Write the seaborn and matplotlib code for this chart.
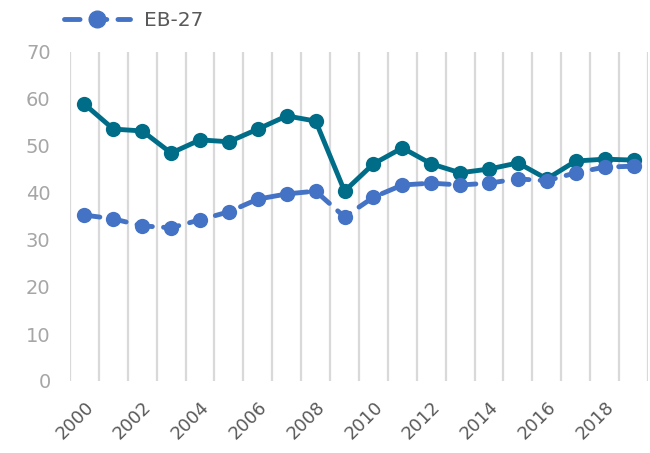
import numpy as np
import pandas as pd
import matplotlib
matplotlib.use("Agg")
import matplotlib.pyplot as plt
import seaborn as sns
from matplotlib.lines import Line2D

# Дані
years = list(range(2000, 2020))
country = [58.9, 53.6, 53.2, 48.5, 51.3, 50.9, 53.6, 56.4, 55.3, 40.4,
           46.2, 49.6, 46.2, 44.3, 45.1, 46.4, 43.0, 46.8, 47.2, 47.0]
eb27 = [35.3, 34.5, 33.0, 32.6, 34.3, 36.0, 38.7, 39.8, 40.4, 34.9,
        39.1, 41.7, 42.1, 41.7, 42.1, 43.0, 42.6, 44.3, 45.5, 45.7]
y_ticks = [0, 10, 20, 30, 40, 50, 60, 70]
x_labels = [str(y) for y in range(2000, 2020, 2)]

TEAL = "#006D88"
BLUE = "#4472C4"
DASH_STYLE = (0, (3.2, 2.3))

sns.set_style("white")
plt.rcParams['font.family'] = ['DejaVu Sans']

df = pd.DataFrame({"year": years, "country": country, "eb27": eb27})

fig = plt.figure(figsize=(6.5, 4.53), dpi=100)
ax = fig.add_axes([70 / 650, 72 / 453, 578 / 650, 329 / 453])

sns.lineplot(data=df, x="year", y="country", ax=ax, color=TEAL, linewidth=3.5,
             marker="o", markersize=11, markeredgewidth=0, zorder=3)
sns.lineplot(data=df, x="year", y="eb27", ax=ax, color=BLUE, linewidth=3.5,
             marker="o", markersize=11, markeredgewidth=0, zorder=4,
             dashes=False)
eb_line = [l for l in ax.lines if l.get_color() == BLUE][0]
eb_line.set_linestyle(DASH_STYLE)
eb_line.set_dash_capstyle("round")

ax.set_xlim(1999.5, 2019.5)
ax.set_ylim(0, 70)
ax.set_yticks(y_ticks)
ax.set_xticks(range(2000, 2020, 2))
ax.set_xticklabels(x_labels, rotation=45, ha="right", rotation_mode="anchor")
ax.set_xticks(np.arange(1999.5, 2020, 1), minor=True)
ax.grid(False)
ax.grid(True, which="minor", axis="x", color="#D9D9D9", linewidth=1.6)
ax.tick_params(axis="x", which="both", length=0, labelsize=13, colors="#595959", pad=12)
ax.tick_params(axis="y", length=0, labelsize=14, colors="#A6A6A6", pad=14)
ax.set_xlabel("")
ax.set_ylabel("")
for s in ax.spines.values():
    s.set_visible(False)

handle = Line2D([], [], color=BLUE, linewidth=3.5, marker="o", markersize=12,
                linestyle=DASH_STYLE, dash_capstyle="round")
fig.legend([handle], ["EB-27"], loc="upper left", bbox_to_anchor=(0.07, 1.015),
           frameon=False, fontsize=14.5, labelcolor="#595959", handlelength=3.3,
           handletextpad=0.7)

fig.savefig("out.png", dpi=100)
